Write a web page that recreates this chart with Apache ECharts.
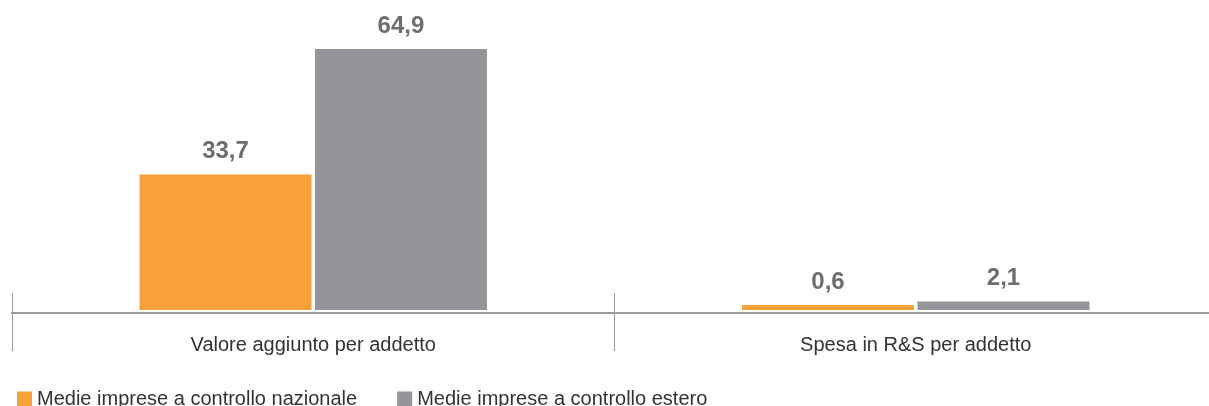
<!DOCTYPE html>
<html>
<head>
<meta charset="utf-8">
<script src="https://cdn.jsdelivr.net/npm/echarts@6/dist/echarts.min.js"></script>
<style>
  html, body { margin: 0; padding: 0; background: #fff; }
  #chart { width: 1209px; height: 406px; }
</style>
</head>
<body>
<div id="chart"></div>
<script>
var categories = ['Valore aggiunto per addetto', 'Spesa in R&S per addetto'];
var nazionale = [33.7, 0.6];
var estero = [64.9, 2.1];
var seriesNames = ['Medie imprese a controllo nazionale', 'Medie imprese a controllo estero'];

var myChart = echarts.init(document.getElementById('chart'));

function fmt(p) {
    return String(p.value).replace('.', ',');
}

var valueLabel = {
    show: true,
    position: 'top',
    distance: 11,
    formatter: fmt,
    color: '#6d6e71',
    fontSize: 24,
    fontWeight: 'bold',
    fontFamily: 'Liberation Sans'
};

var option = {
    animation: false,
    grid: {
        left: 12,
        width: 1205,
        top: 28.5,
        bottom: 96,
        outerBoundsMode: 'none'
    },
    legend: {
        left: 12,
        top: 384,
        itemWidth: 15,
        itemHeight: 15,
        itemGap: 40,
        icon: 'rect',
        data: seriesNames,
        textStyle: {
            color: '#333',
            fontSize: 20,
            fontFamily: 'Liberation Sans'
        }
    },
    xAxis: [{
        type: 'category',
        data: categories,
        position: 'bottom',
        offset: 3,
        axisLine: {
            show: true,
            onZero: false,
            lineStyle: { color: '#999', width: 2 }
        },
        axisTick: {
            show: true,
            length: 38,
            lineStyle: { color: '#999', width: 1 }
        },
        axisLabel: {
            margin: 22,
            color: '#333',
            fontSize: 20,
            fontFamily: 'Liberation Sans'
        }
    }, {
        // upper part of the category separators
        type: 'category',
        data: categories,
        position: 'bottom',
        offset: 3,
        axisLine: { show: false, onZero: false },
        axisTick: {
            show: true,
            inside: true,
            length: 20,
            lineStyle: { color: '#999', width: 1 }
        },
        axisLabel: { show: false }
    }],
    yAxis: {
        type: 'value',
        min: 0,
        max: 70,
        show: false
    },
    series: [{
        name: seriesNames[0],
        type: 'bar',
        data: nazionale,
        barWidth: 172,
        barGap: '2%',
        barMinHeight: 5,
        itemStyle: { color: '#f8a13a' },
        label: valueLabel
    }, {
        name: seriesNames[1],
        type: 'bar',
        data: estero,
        barWidth: 172,
        barGap: '2%',
        barMinHeight: 5,
        itemStyle: { color: '#939598' },
        label: valueLabel
    }]
};

myChart.setOption(option);
window.addEventListener('resize', function() {
    myChart.resize();
});
</script>
</body>
</html>
